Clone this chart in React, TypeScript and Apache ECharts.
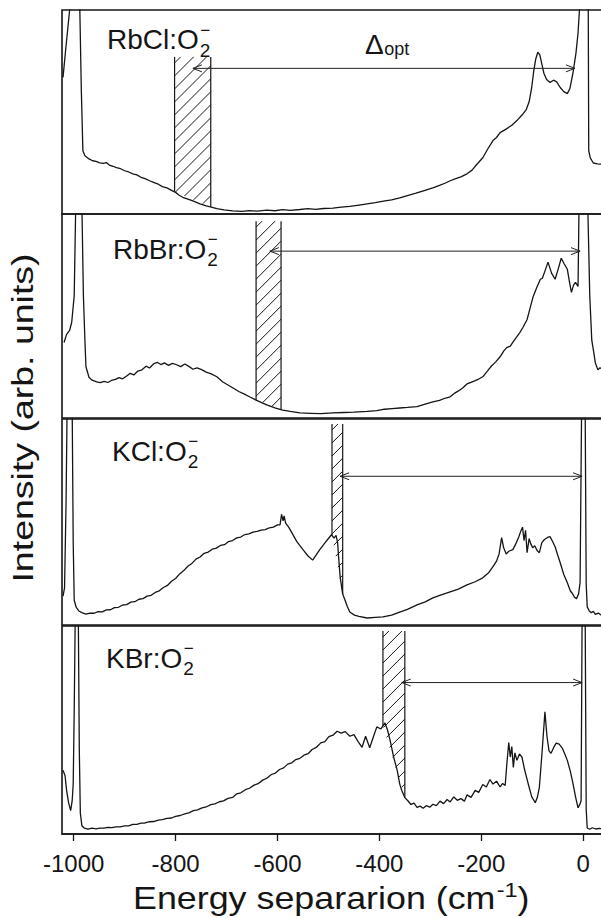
import React, { useEffect, useRef } from 'react';
import * as echarts from 'echarts';

// ---------- data ----------
const X_MIN = -1023;
const X_MAX = 39;
const xTickValues = [-1000, -800, -600, -400, -200, 0];
const samples = ['RbCl', 'RbBr', 'KCl', 'KBr'];
const xTitle = 'Energy separarion (cm';
const yTitle = 'Intensity (arb. units)';

const rbclSpectrum = [
  [-1021, 67], [-1016, 80], [-1012, 90], [-1008, 100], [-998, 150], [-988, 100], [-985, 60], [-982, 31],
  [-978, 28.6], [-970, 27], [-963, 26.1], [-956, 25.8], [-949, 25.1], [-942, 24.8], [-936, 25.2], [-930, 24],
  [-923, 23.4], [-916, 22.7], [-908, 22.2], [-900, 21.2], [-892, 20.6], [-884, 19.7], [-876, 19.2], [-868, 18],
  [-860, 17.3], [-851, 16.3], [-842, 15.4], [-834, 14.6], [-826, 13.4], [-817, 12.8], [-808, 11.6], [-800, 10.6],
  [-793, 9.2], [-786, 8.2], [-776, 7.3], [-766, 6.4], [-752, 5.0], [-740, 4], [-730, 3.4], [-719, 2.6],
  [-705, 2.0], [-688, 1.5], [-670, 1.3], [-655, 1.7], [-640, 1.4], [-621, 1.9], [-605, 1.6], [-590, 2.1],
  [-575, 1.8], [-556, 2.2], [-540, 2.6], [-525, 2.3], [-510, 2.7], [-491, 2.9], [-475, 3.4], [-458, 3.7],
  [-440, 4.4], [-424, 5.0], [-408, 5.6], [-392, 6.3], [-376, 6.9], [-360, 7.9], [-345, 9.0], [-328, 10.2],
  [-312, 11.5], [-295, 12.8], [-282, 14], [-270, 15.2], [-261, 16.3], [-250, 17.3], [-240, 18.2], [-228, 19.7],
  [-218, 21.5], [-208, 24.5], [-197, 27.6], [-187, 32], [-177, 36], [-170, 37.5], [-163, 39.9], [-152, 41.5],
  [-140, 43.5], [-130, 45.8], [-120, 48.5], [-112, 51], [-106, 55], [-101, 62], [-97, 70], [-93, 76],
  [-89, 79.3], [-85, 78], [-81, 73.5], [-77, 69], [-72, 66], [-65, 64.5], [-58, 65.6], [-52, 64.8],
  [-45, 62], [-38, 60], [-31, 59], [-26, 61.5], [-20, 69], [-14, 79], [-10, 88.7], [-6, 105],
  [2, 150], [10, 105], [11, 31], [14, 27.5], [20, 25], [28, 24.6], [39, 24.4],
];

const rbbrSpectrum = [
  [-1019, 37], [-1014, 41], [-1008, 43], [-1004, 46.8], [-999, 60], [-996, 105], [-990, 150], [-984, 105],
  [-981, 60], [-978, 38], [-976, 25.1], [-970, 20], [-965, 18.7], [-955, 17.7], [-948, 17.3], [-940, 18.0],
  [-933, 17.4], [-926, 18.4], [-918, 18.9], [-911, 19.8], [-904, 19.2], [-896, 20.6], [-889, 21.9], [-882, 21.1],
  [-874, 23.0], [-866, 23.6], [-858, 25.4], [-851, 24.5], [-843, 26.6], [-836, 27.3], [-829, 26.2], [-822, 27.0],
  [-814, 25.8], [-806, 26.8], [-798, 26.1], [-790, 25.2], [-782, 26.5], [-774, 25.3], [-766, 23.9], [-758, 24.6],
  [-750, 23.8], [-740, 22.5], [-730, 21.6], [-719, 20.2], [-708, 17.8], [-698, 16.3], [-688, 14.8], [-676, 13.0],
  [-665, 11.7], [-654, 10.3], [-642, 8.8], [-630, 7.4], [-621, 6.4], [-605, 5], [-590, 3.9], [-575, 3.2],
  [-556, 2.5], [-535, 2.3], [-515, 2.1], [-491, 2.5], [-470, 2.7], [-450, 2.9], [-424, 3.2], [-405, 3.6],
  [-390, 4.3], [-375, 4.6], [-360, 4.9], [-345, 5.2], [-326, 5.6], [-310, 6.8], [-295, 7.9], [-282, 8.6],
  [-270, 9.8], [-261, 10.4], [-252, 12.2], [-244, 13.4], [-236, 14.8], [-228, 16.7], [-220, 17.5], [-212, 18.3],
  [-205, 19.1], [-197, 20.2], [-188, 23], [-180, 25.5], [-172, 27.4], [-163, 30], [-156, 32.8], [-150, 34.5],
  [-143, 35.2], [-136, 37.8], [-130, 39.9], [-124, 42], [-118, 44.5], [-110, 48.3], [-104, 54], [-98, 59.6],
  [-91, 64], [-84, 68], [-80, 68.5], [-75, 72], [-69, 76.4], [-62, 71], [-55, 68], [-49, 73],
  [-43, 78.3], [-37, 75.5], [-31, 72.9], [-27, 67], [-23, 61.6], [-19, 65], [-15, 66.5], [-10, 64.5],
  [-8, 105], [1, 150], [9, 105], [13, 60], [17, 38], [20, 33.5], [24, 27], [29, 23.6], [33, 24.6], [39, 24],
];

const kclSpectrum = [
  [-1021, 14], [-1018, 18], [-1015, 60], [-1013, 105], [-1007, 150], [-1003, 105], [-1001, 40], [-999, 12],
  [-995, 8.5], [-990, 6.8], [-983, 5.9], [-976, 5.3], [-968, 5.8], [-960, 5.7], [-952, 6.5], [-944, 6.4],
  [-936, 7.3], [-928, 7.4], [-920, 8.4], [-912, 8.6], [-904, 9.7], [-896, 9.9], [-888, 11.1], [-880, 11.3],
  [-872, 12.5], [-864, 12.8], [-856, 14.0], [-848, 14.4], [-840, 15.8], [-832, 16.6], [-824, 18.2], [-816, 19.2],
  [-808, 21.2], [-800, 22.6], [-792, 24.8], [-784, 26.4], [-776, 28.5], [-768, 29.9], [-760, 32.0], [-752, 33.0],
  [-744, 34.8], [-736, 35.4], [-728, 36.8], [-720, 37.3], [-712, 38.6], [-704, 39.0], [-696, 40.5], [-688, 41.0],
  [-680, 42.3], [-672, 42.7], [-664, 43.9], [-656, 44.2], [-648, 45.1], [-640, 45.4], [-632, 46.1], [-624, 46.3],
  [-616, 47.2], [-608, 47.5], [-600, 48.6], [-595, 48.6], [-592, 53.7], [-589, 50.5], [-587, 53], [-584, 49.5],
  [-578, 47.5], [-570, 44], [-562, 40.5], [-556, 38.5], [-548, 36], [-540, 33.5], [-531, 31.5], [-524, 34],
  [-517, 36.6], [-508, 39.5], [-500, 42], [-494, 43.8], [-489, 42.2], [-485, 43.5], [-482, 40], [-480, 33],
  [-477, 23.4], [-472, 15], [-468, 12.5], [-463, 9], [-458, 6.3], [-449, 4.8], [-440, 4.2], [-424, 3.4],
  [-408, 3.7], [-393, 3.9], [-376, 4.8], [-360, 6.3], [-345, 7.6], [-326, 9.8], [-310, 11.2], [-295, 13.2],
  [-280, 14.5], [-261, 16.1], [-245, 17.4], [-228, 19.5], [-212, 21], [-197, 22.9], [-185, 25.5], [-177, 28.3],
  [-170, 31], [-165, 34.5], [-160, 42.4], [-156, 37.5], [-151, 34.5], [-146, 35.8], [-138, 36.6], [-131, 40],
  [-126, 43], [-122, 45.8], [-119, 47.5], [-116, 41], [-113, 46], [-110, 35.1], [-106, 42], [-103, 39.5],
  [-99, 37.5], [-95, 38.5], [-90, 36], [-86, 35.1], [-81, 40], [-76, 41.5], [-70, 42.5], [-65, 42.9],
  [-60, 40.5], [-55, 38], [-50, 34], [-45, 30.2], [-38, 24.5], [-31, 20.5], [-25, 16.5], [-21, 15.3],
  [-17, 13.5], [-13, 12.8], [-9, 15], [-6, 20.5], [-3, 105], [1, 150], [4, 105], [6, 20],
  [8, 8.8], [12, 6.8], [16, 6], [20, 6.6], [24, 5.2], [30, 5.8], [35, 4.9], [39, 4.5],
];

const kbrSpectrum = [
  [-1021, 30.6], [-1017, 28], [-1014, 21], [-1010, 15], [-1006, 11.2], [-1003, 16], [-1001, 24], [-999, 60],
  [-997, 105], [-994, 150], [-991, 105], [-989, 40], [-987, 10], [-984, 4], [-979, 2.8], [-972, 2.3],
  [-964, 2.8], [-956, 2.5], [-949, 2.8], [-941, 2.8], [-933, 3.2], [-925, 3.1], [-917, 3.4], [-909, 3.4],
  [-900, 3.9], [-892, 3.9], [-884, 4.6], [-876, 4.6], [-868, 5.2], [-860, 5.3], [-851, 5.9], [-843, 6.0],
  [-834, 6.7], [-826, 6.9], [-817, 7.5], [-808, 7.7], [-800, 8.5], [-791, 8.9], [-782, 9.7], [-774, 10.2],
  [-765, 11.2], [-757, 11.6], [-748, 12.6], [-740, 13.0], [-731, 14.1], [-723, 14.5], [-714, 15.5], [-706, 15.9],
  [-697, 17.1], [-688, 17.6], [-680, 19.3], [-672, 19.8], [-663, 21.3], [-655, 22.0], [-646, 23.5], [-638, 24.2],
  [-629, 25.9], [-621, 26.8], [-612, 28.6], [-604, 29.3], [-596, 31.0], [-588, 31.8], [-580, 33.6], [-572, 34.2],
  [-564, 35.8], [-556, 36.4], [-548, 37.9], [-540, 38.6], [-532, 40.6], [-523, 41.8], [-515, 43.8], [-507, 44.4],
  [-499, 46.8], [-491, 47.5], [-483, 49.4], [-475, 48.5], [-467, 49.2], [-458, 47.0], [-450, 47.8], [-442, 44.5],
  [-434, 41.7], [-427, 47.0], [-419, 41.5], [-412, 46.5], [-405, 51.5], [-397, 50.5], [-389, 53.4], [-384, 50],
  [-379, 45.1], [-372, 37], [-365, 30.6], [-360, 24], [-356, 20.9], [-350, 17.5], [-344, 16.0], [-338, 14.2],
  [-332, 14.8], [-326, 12.8], [-320, 13.4], [-314, 12.4], [-308, 13.6], [-301, 12.9], [-295, 14.3], [-288, 13.6],
  [-281, 15.8], [-274, 14.6], [-267, 16.6], [-261, 15.4], [-254, 17.8], [-247, 16.2], [-240, 17.0], [-233, 15.8],
  [-228, 18.8], [-220, 17.6], [-212, 21.0], [-205, 20.0], [-197, 23.8], [-190, 22.6], [-183, 26.2], [-177, 24.0],
  [-170, 25.4], [-163, 22.6], [-158, 24.3], [-153, 23.3], [-150, 33], [-146, 44], [-143, 37], [-140, 42],
  [-137, 32], [-134, 39], [-130, 35.4], [-125, 38.5], [-120, 36.9], [-115, 31], [-108, 24.3], [-101, 18],
  [-94, 15], [-90, 17.5], [-86, 22.3], [-81, 38], [-75, 58.7], [-71, 47], [-67, 40], [-63, 38.8],
  [-58, 41.5], [-53, 43.7], [-47, 43.2], [-41, 41.3], [-36, 38.5], [-31, 35.4], [-25, 30], [-20, 24.3],
  [-15, 18], [-10, 12.6], [-6, 14.5], [-4, 16], [-2, 105], [1, 150], [4, 105], [6, 12],
  [8, 2.9], [13, 2.3], [18, 3.0], [25, 2.4], [32, 2.7], [39, 2.4],
];

const spectra = [rbclSpectrum, rbbrSpectrum, kclSpectrum, kbrSpectrum];
const hatchRanges = [[-802, -731], [-642, -593], [-493, -472], [-393, -350]];
const hatchTops = [77, 96.5, 97.6, 97.6];
const arrowRanges = [[-766, -16], [-615, -6], [-477, -2], [-356, -2]];
const arrowLevels = [71.4, 81.8, 72.2, 72.8];

// ---------- layout / style ----------
const FONT = '"Liberation Sans", Arial, Helvetica, sans-serif';
const INK = '#151515';
const GRID_LEFT = 62;
const GRID_WIDTH = 541;
const panelBoxes = [
  { top: 10, height: 204 },
  { top: 214, height: 204 },
  { top: 419, height: 206 },
  { top: 626, height: 208 },
];
const labelPos = [[107, 39.5], [113, 249], [112, 451], [106, 658]];

function interp(data: number[][], x: number): number {
  for (let i = 1; i < data.length; i++) {
    const [x0, y0] = data[i - 1];
    const [x1, y1] = data[i];
    if (x >= x0 && x <= x1) return y0 + ((y1 - y0) * (x - x0)) / (x1 - x0 || 1);
  }
  return data[data.length - 1][1];
}

let measureCtx: CanvasRenderingContext2D | null = null;
function measure(text: string, size: number): number {
  if (!measureCtx) measureCtx = document.createElement('canvas').getContext('2d');
  if (!measureCtx) return text.length * size * 0.55;
  measureCtx.font = `${size}px "Liberation Sans", Arial, sans-serif`;
  return measureCtx.measureText(text).width;
}

function txt(x: number, y: number, text: string, size: number, extra: any = {}) {
  return {
    type: 'text',
    x,
    y,
    silent: true,
    style: { text, fontSize: size, fontFamily: FONT, fill: INK, align: 'left', verticalAlign: 'middle', ...extra },
  };
}

function renderMarks(params: any, api: any) {
  const x1 = api.value(0), x2 = api.value(1), top = api.value(2);
  const b1 = api.value(3), b2 = api.value(4);
  const a1 = api.value(5), a2 = api.value(6), ay = api.value(7);
  const P1 = api.coord([x1, top]);
  const P2 = api.coord([x2, top]);
  const Q1 = api.coord([x1, b1]);
  const Q2 = api.coord([x2, b2]);
  const L = P1[0], R = P2[0], T = P1[1], B1 = Q1[1], B2 = Q2[1];
  const stroke = { stroke: INK, lineWidth: 1.2, fill: null };
  const children: any[] = [
    { type: 'line', shape: { x1: L, y1: T, x2: L, y2: B1 }, style: stroke },
    { type: 'line', shape: { x1: R, y1: T, x2: R, y2: B2 }, style: stroke },
  ];
  const s = (B2 - B1) / (R - L);
  const step = 13;
  for (let c = L + T + 6; c < R + Math.max(B1, B2); c += step) {
    const xs = Math.max(L, (c - B1 + s * L) / (1 + s));
    const xe = Math.min(R, c - T);
    if (xe > xs + 0.5) {
      children.push({ type: 'line', shape: { x1: xs, y1: c - xs, x2: xe, y2: c - xe }, style: { stroke: INK, lineWidth: 1 } });
    }
  }
  const A1 = api.coord([a1, ay]);
  const A2 = api.coord([a2, ay]);
  const y = A1[1];
  const thin = { stroke: '#222', lineWidth: 1, fill: null };
  children.push({ type: 'line', shape: { x1: A1[0], y1: y, x2: A2[0], y2: y }, style: thin });
  children.push({ type: 'polyline', shape: { points: [[A1[0] + 9, y - 3.5], [A1[0], y], [A1[0] + 9, y + 3.5]] }, style: thin });
  children.push({ type: 'polyline', shape: { points: [[A2[0] - 9, y - 3.5], [A2[0], y], [A2[0] - 9, y + 3.5]] }, style: thin });
  return { type: 'group', children };
}

function buildOption() {
  const graphics: any[] = [];
  samples.forEach((name, i) => {
    const [x, y] = labelPos[i];
    const main = name + ':O';
    const w = measure(main, 28);
    graphics.push(txt(x, y, main, 28));
    graphics.push(txt(x + w + 1, y + 10.5, '2', 19));
    graphics.push(txt(x + w + 1.5, y - 9.5, '\u2212', 17));
  });
  // Δopt
  graphics.push(txt(365, 44, '\u0394', 28));
  graphics.push(txt(365 + measure('\u0394', 28) + 0.5, 49, 'opt', 18));

  // x title
  const w1 = measure(xTitle, 32);
  const w2 = measure('-1', 21);
  graphics.push({
    type: 'group',
    x: 133,
    y: 898,
    scaleX: 1.12,
    silent: true,
    children: [
      txt(0, 0, xTitle, 32),
      txt(w1 + 1, -8, '-1', 21),
      txt(w1 + w2 + 1, 0, ')', 32),
    ],
  });
  // y title
  graphics.push({
    type: 'text',
    x: 22.5,
    y: 418,
    rotation: Math.PI / 2,
    scaleX: 1.25,
    silent: true,
    style: { text: yTitle, fontSize: 30, fontFamily: FONT, fill: INK, align: 'center', verticalAlign: 'middle' },
  });

  const lineSeries = spectra.map((data, i) => ({
    type: 'line',
    name: samples[i],
    xAxisIndex: i,
    yAxisIndex: i,
    data,
    symbol: 'none',
    silent: true,
    clip: true,
    lineStyle: { color: INK, width: 1.3 },
    z: 2,
  }));

  const markSeries = spectra.map((data, i) => ({
    type: 'custom',
    xAxisIndex: i,
    yAxisIndex: i,
    silent: true,
    clip: false,
    z: 3,
    data: [[
      hatchRanges[i][0], hatchRanges[i][1], hatchTops[i],
      interp(data, hatchRanges[i][0]), interp(data, hatchRanges[i][1]),
      arrowRanges[i][0], arrowRanges[i][1], arrowLevels[i],
    ]],
    renderItem: renderMarks,
  }));

  return {
    animation: false,
    backgroundColor: '#ffffff',
    grid: panelBoxes.map((b) => ({
      left: GRID_LEFT,
      width: GRID_WIDTH,
      top: b.top,
      height: b.height,
      show: true,
      borderColor: INK,
      borderWidth: 1.6,
      backgroundColor: 'transparent',
      containLabel: false,
      outerBoundsMode: 'none',
    })),
    xAxis: panelBoxes.map((_, i) => ({
      type: 'value',
      gridIndex: i,
      min: X_MIN,
      max: X_MAX,
      show: i === 3,
      axisLine: { show: true, lineStyle: { color: INK, width: 1.6 } },
      axisTick: { show: true, customValues: xTickValues, length: 7, lineStyle: { color: INK, width: 1.3 } },
      axisLabel: {
        customValues: xTickValues,
        formatter: (v: number) => String(v),
        fontSize: 24,
        fontFamily: FONT,
        color: INK,
        margin: 17,
      },
      splitLine: { show: false },
    })),
    yAxis: panelBoxes.map((_, i) => ({ type: 'value', gridIndex: i, min: 0, max: 100, show: false })),
    series: [...lineSeries, ...markSeries],
    graphic: graphics,
  };
}

export default function App() {
  const ref = useRef<HTMLDivElement>(null);
  useEffect(() => {
    document.body.style.margin = '0';
    if (!ref.current) return;
    const chart = echarts.init(ref.current, null, { renderer: 'svg', width: 601, height: 918 });
    chart.setOption(buildOption() as any);
    return () => chart.dispose();
  }, []);
  return (
    <div
      ref={ref}
      style={{ width: 601, height: 918, position: 'absolute', left: 0, top: 0, background: '#fff' }}
    />
  );
}
